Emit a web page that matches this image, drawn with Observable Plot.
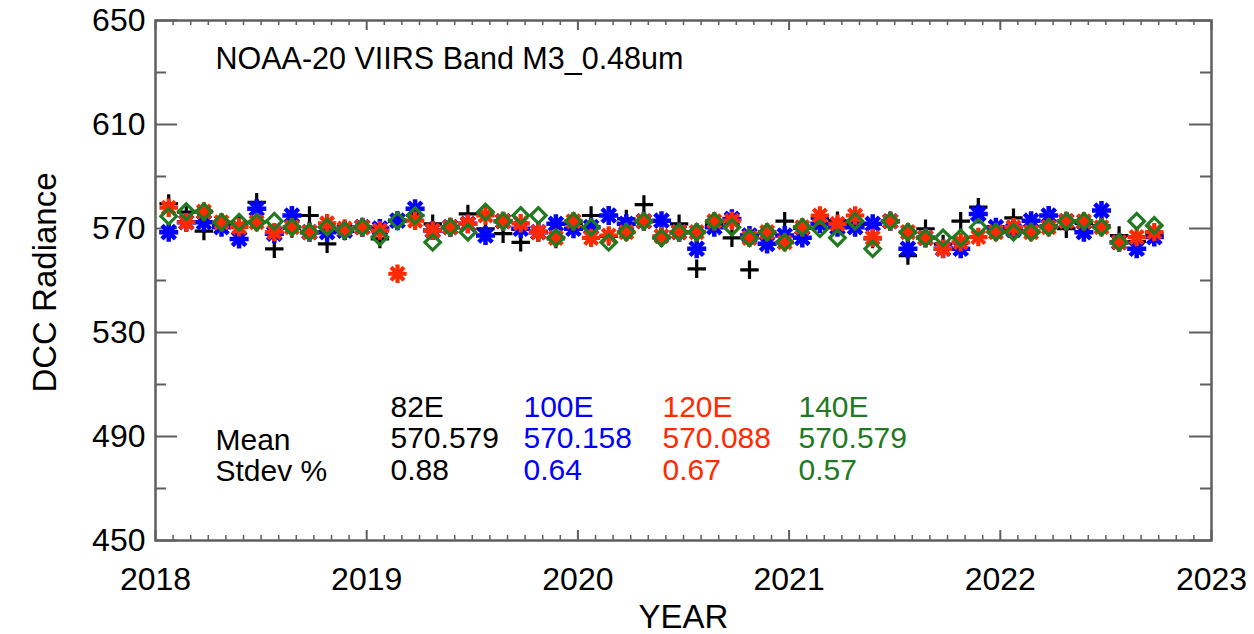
<!DOCTYPE html>
<html>
<head>
<meta charset="utf-8">
<script src="https://cdn.jsdelivr.net/npm/d3@7"></script>
<script src="https://cdn.jsdelivr.net/npm/@observablehq/plot@0.6"></script>
<style>
  html, body { margin: 0; padding: 0; background: #fff; }
  #chart { width: 1254px; height: 634px; }
</style>
</head>
<body>
<div id="chart"></div>
<script>
// ---------------- data ----------------
const months = [
  "2018-01","2018-02","2018-03","2018-04","2018-05","2018-06","2018-07","2018-08","2018-09","2018-10","2018-11","2018-12",
  "2019-01","2019-02","2019-03","2019-04","2019-05","2019-06","2019-07","2019-08","2019-09","2019-10","2019-11","2019-12",
  "2020-01","2020-02","2020-03","2020-04","2020-05","2020-06","2020-07","2020-08","2020-09","2020-10","2020-11","2020-12",
  "2021-01","2021-02","2021-03","2021-04","2021-05","2021-06","2021-07","2021-08","2021-09","2021-10","2021-11","2021-12",
  "2022-01","2022-02","2022-03","2022-04","2022-05","2022-06","2022-07","2022-08","2022-09"
];
const site82E = [
  579.6,576.3,569.0,572.0,571.0,580.1,562.2,570.0,575.0,564.1,569.0,570.5,
  566.0,573.0,575.0,571.8,570.5,575.6,569.9,568.0,564.7,569.0,566.0,572.0,
  575.0,567.0,573.7,579.2,566.4,571.8,554.5,572.0,566.4,554.1,568.0,572.8,
  570.0,574.0,573.0,572.0,566.0,573.0,559.6,569.9,564.0,572.8,578.2,569.0,
  574.1,569.0,571.0,569.9,572.0,571.0,567.3,565.0,568.0
];
const site100E = [
  568.6,572.4,572.4,570.5,566.0,577.6,568.0,575.0,568.6,568.6,569.2,570.5,
  570.0,573.0,577.6,569.2,570.5,571.8,567.3,572.8,569.9,568.6,571.8,569.9,
  570.5,575.0,571.8,572.8,573.0,568.6,562.2,570.5,573.7,567.3,564.1,567.3,
  566.4,571.8,570.5,570.5,571.8,572.8,562.2,566.4,562.2,562.2,575.6,570.5,
  569.5,573.0,575.0,572.8,568.6,576.9,564.7,562.2,566.7
];
const site120E = [
  578.0,572.4,576.5,572.4,570.5,572.4,568.6,570.5,568.6,572.0,570.0,570.5,
  569.2,552.6,573.0,569.2,570.5,571.8,575.0,572.8,572.0,568.6,566.4,572.8,
  566.4,567.3,568.6,572.8,567.0,568.6,568.6,572.8,573.0,566.4,568.6,564.7,
  570.5,575.0,571.8,575.0,566.4,572.8,568.6,566.4,562.2,564.7,566.7,568.6,
  570.5,568.6,570.5,572.8,572.8,570.5,564.7,566.7,568.6
];
const site140E = [
  574.7,576.5,576.5,572.4,572.4,572.4,572.8,570.5,568.6,570.5,569.2,570.5,
  566.7,573.0,575.0,564.7,570.5,568.6,576.3,572.8,575.0,575.0,566.4,572.8,
  570.5,564.7,568.6,572.8,566.4,568.6,568.6,572.8,570.5,566.4,568.6,564.7,
  570.5,569.9,566.4,572.8,562.2,572.8,568.6,566.4,566.4,566.4,570.5,568.6,
  568.6,568.6,570.5,572.8,572.8,570.5,564.7,572.8,571.2
];
const siteNames = ["82E", "100E", "120E", "140E"];
const siteMeans = ["570.579", "570.158", "570.088", "570.579"];
const siteStdev = ["0.88", "0.64", "0.67", "0.57"];
const rowLabels = ["Mean", "Stdev %"];
const yTickLabels = [450, 490, 530, 570, 610, 650];
const yMinorTicks = [470, 510, 550, 590, 630];
const xTickLabels = [2018, 2019, 2020, 2021, 2022, 2023];
const titleText = "NOAA-20 VIIRS Band M3_0.48um";

// ---------------- layout / style ----------------
const W = 1254, H = 634;
const mL = 155, mR = 43, mT = 20, mB = 94;
const plotW = W - mL - mR, plotH = H - mT - mB;
const colors = ["#000000", "#0000ff", "#ff2a00", "#217a21"];
const colX = [390, 523, 662, 798];
const font = "Liberation Sans, Arial, Helvetica, sans-serif";

const decYear = m => +m.slice(0, 4) + (+m.slice(5, 7) - 1 + 0.75) / 12;
const rows = (vals) => months.map((m, i) => ({t: decYear(m), v: vals[i]}));
const d82 = rows(site82E), d100 = rows(site100E), d120 = rows(site120E), d140 = rows(site140E);
const xMinor = d3.range(2018, 2023 + 1e-9, 1 / 12).filter(v => Math.abs(v - Math.round(v)) > 1e-6);

const frameColor = "#5f5f5f";
const tickW = 2;

const plot = Plot.plot({
  width: W, height: H,
  marginLeft: mL, marginRight: mR, marginTop: mT, marginBottom: mB,
  style: {fontFamily: font, fontSize: "32px", color: "#000", background: "#fff", overflow: "visible"},
  x: {domain: [2018, 2023]},
  y: {domain: [450, 650]},
  marks: [
    // inward ticks: left/right (y) and bottom/top (x)
    Plot.ruleY(yTickLabels, {y: d => d, insetRight: plotW - 22, stroke: frameColor, strokeWidth: tickW}),
    Plot.ruleY(yTickLabels, {y: d => d, insetLeft: plotW - 22, stroke: frameColor, strokeWidth: tickW}),
    Plot.ruleY(yMinorTicks, {y: d => d, insetRight: plotW - 11, stroke: frameColor, strokeWidth: tickW}),
    Plot.ruleY(yMinorTicks, {y: d => d, insetLeft: plotW - 11, stroke: frameColor, strokeWidth: tickW}),
    Plot.ruleX(xTickLabels, {x: d => d, insetTop: plotH - 10, stroke: frameColor, strokeWidth: tickW}),
    Plot.ruleX(xTickLabels, {x: d => d, insetBottom: plotH - 10, stroke: frameColor, strokeWidth: tickW}),
    Plot.ruleX(xMinor, {x: d => d, insetTop: plotH - 5, stroke: frameColor, strokeWidth: 1.5}),
    Plot.ruleX(xMinor, {x: d => d, insetBottom: plotH - 5, stroke: frameColor, strokeWidth: 1.5}),
    Plot.frame({stroke: frameColor, strokeWidth: 2.5}),
    // tick labels
    Plot.axisY({ticks: yTickLabels, tickSize: 0, tickPadding: 10, tickFormat: "d", label: null, fontSize: 32}),
    Plot.axisX({ticks: xTickLabels, tickSize: 0, tickPadding: 27, tickFormat: "d", label: null, fontSize: 32}),
    // series
    Plot.dot(d82, {x: "t", y: "v", symbol: "plus", r: 6, stroke: colors[0], strokeWidth: 3.2}),
    Plot.dot(d100, {x: "t", y: "v", symbol: "plus", r: 6.2, stroke: colors[1], strokeWidth: 4.5}),
    Plot.dot(d100, {x: "t", y: "v", symbol: "times", r: 6.2, stroke: colors[1], strokeWidth: 4.5}),
    Plot.dot(d100, {x: "t", y: "v", symbol: "square", r: 3.8, fill: colors[1]}),
    Plot.dot(d120, {x: "t", y: "v", symbol: "plus", r: 6, stroke: colors[2], strokeWidth: 4.2}),
    Plot.dot(d120, {x: "t", y: "v", symbol: "times", r: 6, stroke: colors[2], strokeWidth: 4.2}),
    Plot.dot(d120, {x: "t", y: "v", symbol: "square", r: 3.6, fill: colors[2]}),
    Plot.dot(d140, {x: "t", y: "v", symbol: "diamond2", r: 7, stroke: colors[3], strokeWidth: 3.2, fill: "none"}),
    // title
    Plot.text([titleText], {frameAnchor: "top-left", dx: 60, dy: 39, textAnchor: "start", lineAnchor: "middle", fontSize: 30.5}),
    // axis titles
    Plot.text(["DCC Radiance"], {frameAnchor: "left", dx: -110, dy: 2, rotate: -90, textAnchor: "middle", lineAnchor: "middle", fontSize: 33}),
    Plot.text(["YEAR"], {frameAnchor: "bottom", dy: 87, textAnchor: "middle", fontSize: 33}),
    // stats block
    Plot.text([rowLabels.join("\n")], {frameAnchor: "top-left", dx: 60, dy: 407, textAnchor: "start", lineAnchor: "top", lineHeight: 1.05, fontSize: 30}),
    ...siteNames.map((name, i) =>
      Plot.text([`${name}\n${siteMeans[i]}\n${siteStdev[i]}`], {
        frameAnchor: "top-left", dx: colX[i] - mL, dy: 374, textAnchor: "start", lineAnchor: "top",
        lineHeight: 1.05, fontSize: 30, fill: colors[i]
      }))
  ]
});
document.getElementById("chart").appendChild(plot);
</script>
</body>
</html>
